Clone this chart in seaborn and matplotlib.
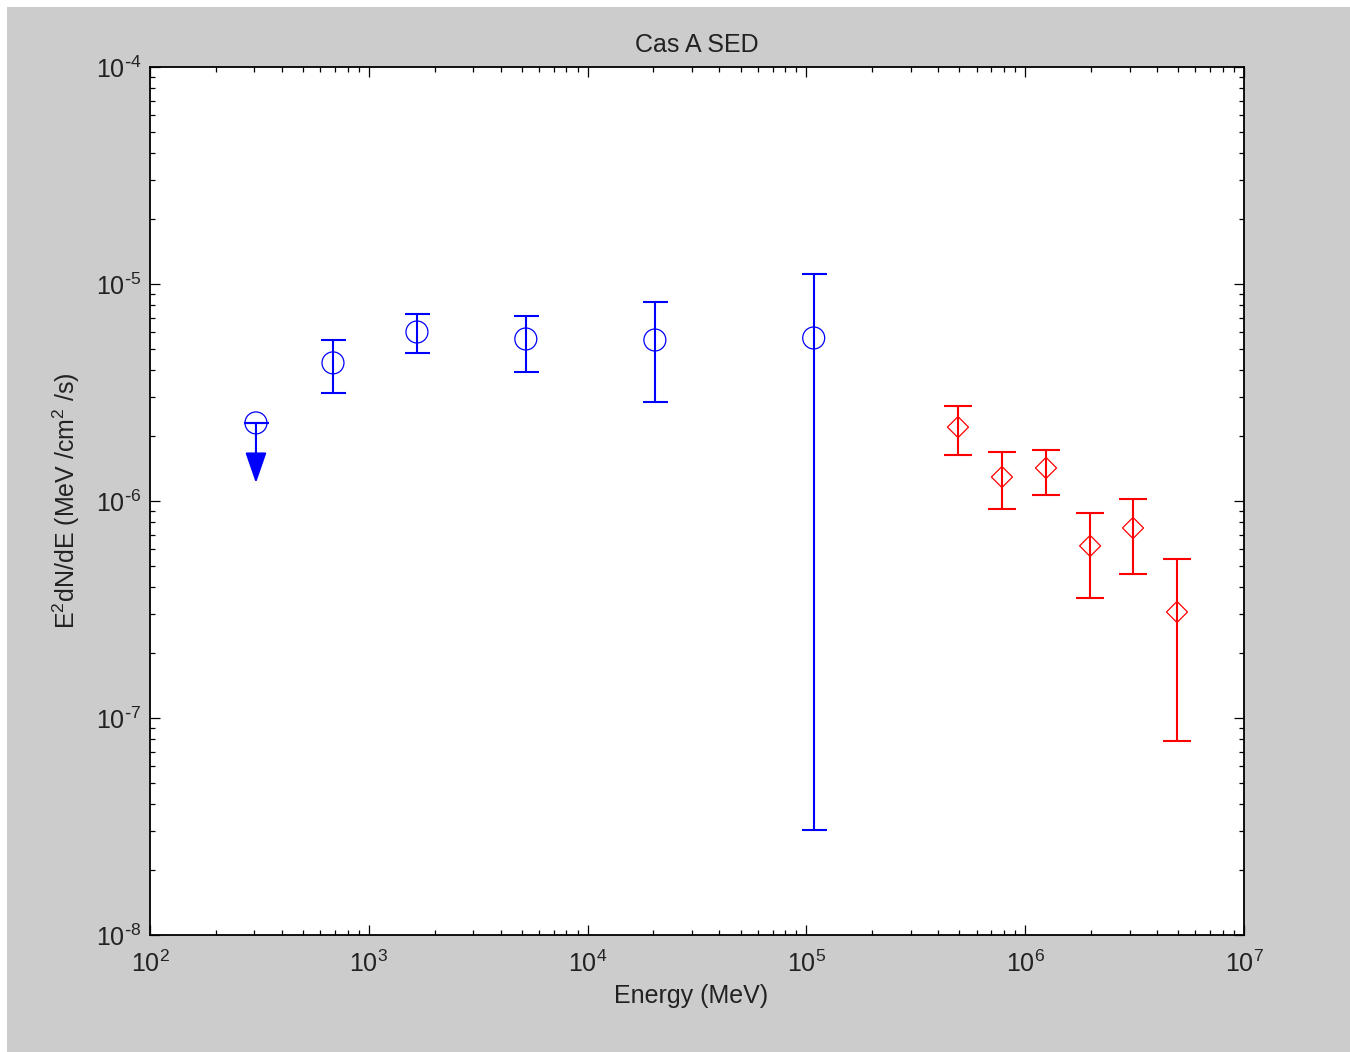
import numpy as np
import pandas as pd
import matplotlib
matplotlib.use("Agg")
import matplotlib.pyplot as plt
from matplotlib.patches import Rectangle
from matplotlib.ticker import LogLocator, NullFormatter, FuncFormatter
import seaborn as sns

# ---- data ----
lat_energy = [686, 1660, 5220, 20300, 108000]
lat_flux = [4.33e-6, 6.01e-6, 5.58e-6, 5.52e-6, 5.64e-6]
lat_hi = [5.52e-6, 7.28e-6, 7.13e-6, 8.26e-6, 1.11e-5]
lat_lo = [3.15e-6, 4.81e-6, 3.93e-6, 2.86e-6, 3.05e-8]

ul_energy = [305]
ul_flux = [2.29e-6]
ul_tip = [1.21e-6]

tev_energy = [4.93e5, 7.83e5, 1.245e6, 1.98e6, 3.11e6, 4.94e6]
tev_flux = [2.19e-6, 1.29e-6, 1.42e-6, 6.21e-7, 7.51e-7, 3.08e-7]
tev_hi = [2.74e-6, 1.68e-6, 1.72e-6, 8.81e-7, 1.02e-6, 5.40e-7]
tev_lo = [1.63e-6, 9.18e-7, 1.07e-6, 3.57e-7, 4.61e-7, 7.83e-8]

title = "Cas A SED"
xlabel = "Energy (MeV)"
ylabel = "E$^2$dN/dE (MeV /cm$^2$ /s)"

# ---- style ----
sns.set_style("ticks")
plt.rcParams["font.family"] = ["Liberation Sans", "DejaVu Sans"]
plt.rcParams["mathtext.default"] = "regular"
plt.rcParams["axes.unicode_minus"] = False
plt.rcParams["font.size"] = 18

BLUE = "#0000ff"
RED = "#ff0000"
GRAY = "#cccccc"

W, H = 1350, 1052
fig = plt.figure(figsize=(W / 100, H / 100), dpi=100, facecolor="white")
fig.patches.append(Rectangle((7 / W, 0), 1 - 7 / W, 1 - 7 / H, transform=fig.transFigure,
                             facecolor=GRAY, edgecolor="none", zorder=-10))
ax = fig.add_axes([150 / W, 1 - 935 / H, (1244 - 150) / W, (935 - 67) / H])
ax.set_facecolor("white")

ax.set_xscale("log")
ax.set_yscale("log")
ax.set_xlim(1e2, 1e7)
ax.set_ylim(1e-8, 1e-4)

lat = pd.DataFrame({"E": lat_energy, "F": lat_flux, "hi": lat_hi, "lo": lat_lo})
tev = pd.DataFrame({"E": tev_energy, "F": tev_flux, "hi": tev_hi, "lo": tev_lo})

# error bars
ax.errorbar(lat["E"], lat["F"], yerr=[lat["F"] - lat["lo"], lat["hi"] - lat["F"]],
            fmt="none", ecolor=BLUE, elinewidth=1.5, capsize=9, capthick=1.5, zorder=2)
ax.errorbar(tev["E"], tev["F"], yerr=[tev["F"] - tev["lo"], tev["hi"] - tev["F"]],
            fmt="none", ecolor=RED, elinewidth=1.5, capsize=10, capthick=1.5, zorder=2)

# markers via seaborn
sns.scatterplot(x=lat["E"], y=lat["F"], marker="o", s=250, facecolors="none",
                edgecolors=BLUE, linewidths=0.9, ax=ax, zorder=3, legend=False)
sns.scatterplot(x=ul_energy, y=ul_flux, marker="o", s=250, facecolors="none",
                edgecolors=BLUE, linewidths=0.9, ax=ax, zorder=3, legend=False)
sns.scatterplot(x=tev["E"], y=tev["F"], marker="D", s=115, facecolors="none",
                edgecolors=RED, linewidths=0.9, ax=ax, zorder=3, legend=False)

# upper limit: cap through centre + arrow
ax.errorbar(ul_energy, ul_flux, yerr=[[0], [0]], fmt="none", ecolor=BLUE,
            elinewidth=1.5, capsize=9, capthick=1.5, zorder=2)
for e, f, t in zip(ul_energy, ul_flux, ul_tip):
    ax.annotate("", xy=(e, t), xytext=(e, f),
                arrowprops=dict(arrowstyle="-|>,head_length=0.95,head_width=0.33",
                                color=BLUE, lw=1.5, shrinkA=0, shrinkB=0,
                                mutation_scale=20), zorder=3)


def pow10(v, pos):
    ex = int(round(np.log10(v)))
    if ex < 0:
        return r"$10^{\text{-}%d}$" % (-ex)
    return r"$10^{%d}$" % ex


# ticks
ax.xaxis.set_major_locator(LogLocator(base=10, numticks=20))
ax.yaxis.set_major_locator(LogLocator(base=10, numticks=20))
ax.xaxis.set_minor_locator(LogLocator(base=10, subs=np.arange(2, 10), numticks=50))
ax.yaxis.set_minor_locator(LogLocator(base=10, subs=np.arange(2, 10), numticks=50))
ax.xaxis.set_major_formatter(FuncFormatter(pow10))
ax.yaxis.set_major_formatter(FuncFormatter(pow10))
ax.xaxis.set_minor_formatter(NullFormatter())
ax.yaxis.set_minor_formatter(NullFormatter())
ax.tick_params(which="both", direction="in", top=True, right=True, color="black",
               labelsize=18, labelcolor="#222222")
ax.tick_params(which="major", length=7, width=0.9)
ax.tick_params(which="minor", length=3.6, width=0.9)
ax.tick_params(axis="x", which="major", pad=11)
ax.tick_params(axis="y", which="major", pad=6)
for sp in ax.spines.values():
    sp.set_visible(True)
    sp.set_linewidth(1.3)
    sp.set_color("black")

ax.set_title(title, fontsize=18, pad=11, color="#222222")
ax.set_xlabel(xlabel, fontsize=18, color="#222222")
ax.set_ylabel(ylabel, fontsize=18, color="#222222")
ax.xaxis.set_label_coords(0.495, -0.057)
ax.yaxis.set_label_coords(-0.062, 0.5)

fig.savefig("out.png", dpi=100, facecolor=fig.get_facecolor())
